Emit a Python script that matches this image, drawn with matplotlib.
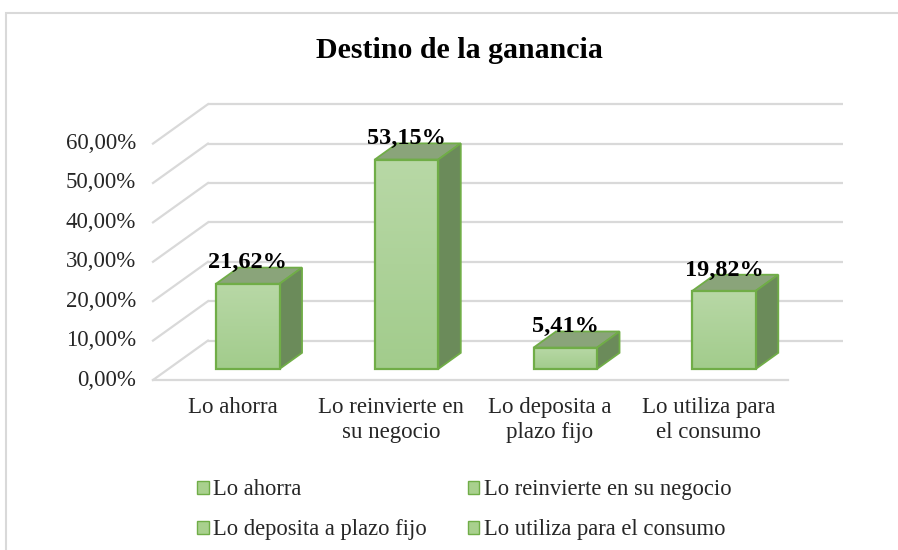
import numpy as np
import matplotlib
matplotlib.use("Agg")
import matplotlib.pyplot as plt
from matplotlib.patches import Polygon, Rectangle, Patch

# data
categories = ["Lo ahorra", "Lo reinvierte en su negocio",
              "Lo deposita a plazo fijo", "Lo utiliza para el consumo"]
axis_labels = ["Lo ahorra", "Lo reinvierte en\nsu negocio",
               "Lo deposita a\nplazo fijo", "Lo utiliza para\nel consumo"]
values = [21.62, 53.15, 5.41, 19.82]
yticks = [0, 10, 20, 30, 40, 50, 60]
ytick_labels = ["0,00%", "10,00%", "20,00%", "30,00%", "40,00%", "50,00%", "60,00%"]

# fake 3d: depth offsets in data units (x in categories, y in percent)
DX = 0.346
DY = 10.0
d0, d1 = 0.28, 0.69   # bar depth range
bw = 0.40            # bar width

W, H = 898, 550
px_x0, px_cat = 153, 158.75
px_y0, px_pct = 380, 3.94

plt.rcParams['font.family'] = ['Liberation Serif', 'DejaVu Serif']

fig = plt.figure(figsize=(W / 100, H / 100), dpi=100)
ax = fig.add_axes([0, 0, 1, 1])
ax.axis('off')

def proj(c, v, d):
    return (c + d * DX, v + d * DY)

grid = '#d9d9d9'
n = len(values)
# back wall + left wall gridlines
for t in yticks:
    x1, y1 = proj(0, t, 1)
    x2, y2 = proj(n, t, 1)
    ax.plot([x1, x2], [y1, y2], color=grid, lw=1.6, zorder=1, solid_capstyle='butt')
    x0, y0 = proj(0, t, 0)
    ax.plot([x0, x1], [y0, y1], color=grid, lw=1.6, zorder=1)
# front floor edge
ax.plot([0, n], [0, 0], color=grid, lw=1.6, zorder=1)

for t, lab in zip(yticks, ytick_labels):
    ax.text(-0.107, t, lab, ha='right', va='center', fontsize=16.5, color='#262626')

edge = '#70ad47'
grad = np.linspace(0, 1, 64).reshape(-1, 1)
cmap = matplotlib.colors.LinearSegmentedColormap.from_list('g', ['#a2cc8c', '#b8d8a6'])

for i, v in enumerate(values):
    c = i + 0.5
    l, r = c - bw / 2, c + bw / 2
    # top face
    top = [proj(l, v, d0), proj(r, v, d0), proj(r, v, d1), proj(l, v, d1)]
    ax.add_patch(Polygon(top, closed=True, fc='#8aa47a', ec=edge, lw=1.3, zorder=3))
    # side face
    side = [proj(r, 0, d0), proj(r, 0, d1), proj(r, v, d1), proj(r, v, d0)]
    ax.add_patch(Polygon(side, closed=True, fc='#6b8b5a', ec=edge, lw=1.3, zorder=3))
    # front face with gradient
    fx, fy = proj(l, 0, d0)
    front = Rectangle((fx, fy), bw, v, fc='none', ec=edge, lw=1.6, zorder=5)
    ax.add_patch(front)
    im = ax.imshow(grad, cmap=cmap, extent=(fx, fx + bw, fy, fy + v),
                   origin='lower', aspect='auto', zorder=4)
    im.set_clip_path(front)
    # value label
    ax.text(fx + bw / 2, v + 6.7, f"{v:.2f}%".replace('.', ','), ha='center',
            va='baseline', fontsize=17.5, fontweight='bold', color='black', zorder=6)
    # category label
    ax.text(c, -4.4, axis_labels[i], ha='center', va='top', fontsize=16.5,
            color='#262626', linespacing=1.22)

ax.set_xlim(-px_x0 / px_cat, (W - px_x0) / px_cat)
ax.set_ylim((px_y0 - H) / px_pct, px_y0 / px_pct)

fig.text(459 / W, 1 - 51 / H, "Destino de la ganancia", ha='center', va='center',
         fontsize=21.5, fontweight='bold')

# chart border
fig.patches.append(Rectangle((6 / W, -0.1), 1.2, 1 - 13 / H + 0.1, transform=fig.transFigure,
                             fill=False, ec='#d9d9d9', lw=1.5))

handles = [Patch(fc='#a9d08e', ec=edge, lw=1) for _ in categories]
order = [0, 2, 1, 3]
fig.legend([handles[k] for k in order], [categories[k] for k in order], ncol=2,
           loc='upper left', bbox_to_anchor=(177 / W, 1 - 459 / H), frameon=False,
           fontsize=16.3, handlelength=0.5, handleheight=0.5, handletextpad=0.2,
           columnspacing=1.8, labelspacing=0.83, labelcolor='#262626')

fig.savefig('out.png', dpi=100)
